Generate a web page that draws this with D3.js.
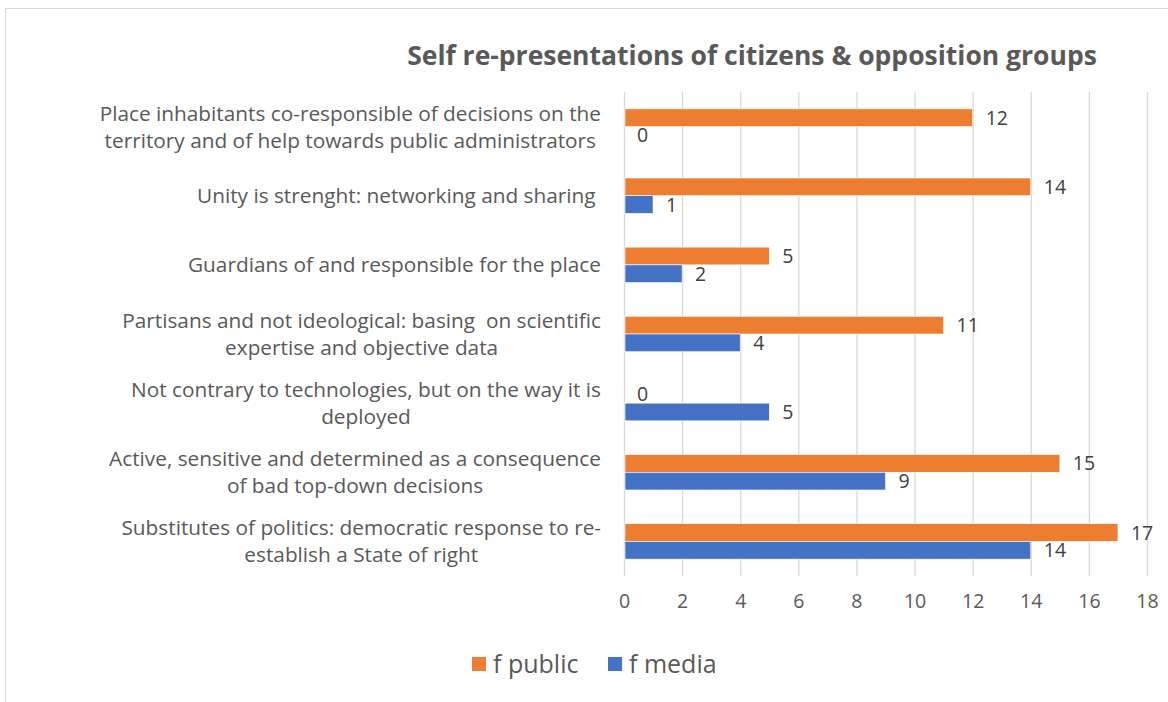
<!DOCTYPE html>
<html><head><meta charset="utf-8">
<script src="https://cdn.jsdelivr.net/npm/d3@7"></script>
<style>
html,body{margin:0;padding:0;background:#fff;}
text{font-family:"Open Sans",sans-serif;}
</style></head>
<body><svg id="chart" width="1168" height="702"></svg>
<script>
const title = "Self re-presentations of citizens & opposition groups";
const categories = [
  ["Place inhabitants co-responsible of decisions on the", "territory and of help towards public administrators"],
  ["Unity is strenght: networking and sharing "],
  ["Guardians of and responsible for the place"],
  ["Partisans and not ideological: basing  on scientific", "expertise and objective data"],
  ["Not contrary to technologies, but on the way it is", "deployed"],
  ["Active, sensitive and determined as a consequence", "of bad top-down decisions"],
  ["Substitutes of politics: democratic response to re-", "establish a State of right"]
];
const seriesNames = ["f public", "f media"];
const fPublic = [12, 14, 5, 11, 0, 15, 17];
const fMedia  = [0, 1, 2, 4, 5, 9, 14];
const xTicks = [0, 2, 4, 6, 8, 10, 12, 14, 16, 18];
const colors = ["#ED7D31", "#4472C4"];

const svg = d3.select("#chart");
svg.style("font-family", '"Open Sans", sans-serif');

// outer frame
svg.append("rect").attr("x", 5.5).attr("y", 8.5).attr("width", 1200).attr("height", 800)
  .attr("fill", "none").attr("stroke", "#d9d9d9").attr("stroke-width", 1);

const x = d3.scaleLinear().domain([0, 18]).range([624, 1147]);
const idx = d3.range(categories.length);
const y = d3.scaleBand().domain(idx).range([92, 576]).padding(0);
const barH = 17.7;
const sub = d3.scaleBand().domain([0, 1])
  .range([y.bandwidth() / 2 - barH, y.bandwidth() / 2 + barH]).padding(0);

// gridlines
svg.append("g").selectAll("line").data(xTicks).join("line")
  .attr("x1", d => x(d) + 0.5).attr("x2", d => x(d) + 0.5)
  .attr("y1", 92).attr("y2", 576)
  .attr("stroke", "#d9d9d9").attr("stroke-width", 1.3);

// x tick labels via axis
const xAxis = svg.append("g").attr("transform", "translate(0,594)")
  .call(d3.axisBottom(x).tickValues(xTicks).tickSize(0).tickPadding(0));
xAxis.select(".domain").remove();
xAxis.selectAll("text").attr("fill", "#595959").attr("font-size", "19.5px")
  .attr("font-family", '"Open Sans", sans-serif').attr("dy", "0.71em");

// title
svg.append("text").attr("x", 752).attr("y", 64.5).attr("text-anchor", "middle")
  .attr("font-size", "26.5px").attr("font-weight", "bold").attr("fill", "#595959")
  .text(title);

// bars
const series = [fPublic, fMedia];
series.forEach((vals, s) => {
  const g = svg.append("g");
  g.selectAll("rect").data(vals).join("rect")
    .attr("x", x(0) + 1)
    .attr("y", (d, i) => y(i) + sub(s))
    .attr("width", d => Math.max(0, x(d) - x(0) - 1))
    .attr("height", sub.bandwidth())
    .attr("fill", colors[s])
    .attr("stroke", "#ffffff").attr("stroke-width", 0.6);
  g.selectAll("text").data(vals).join("text")
    .attr("x", d => x(d) + 13)
    .attr("y", (d, i) => y(i) + sub(s) + sub.bandwidth() / 2)
    .attr("dy", "0.36em")
    .attr("font-size", "19.5px").attr("fill", "#404040")
    .text(d => d);
});

// category labels: lines centred on a common axis, widest line ends at x=601
const lh = 27;
const labG = svg.append("g");
categories.forEach((lines, i) => {
  const cy = y(i) + y.bandwidth() / 2;
  const n = lines.length;
  const nodes = lines.map((ln, k) => labG.append("text")
      .attr("y", cy + (k - (n - 1) / 2) * lh)
      .attr("dy", "0.36em")
      .attr("font-size", "20.8px").attr("fill", "#595959")
      .attr("text-anchor", "middle")
      .attr("xml:space", "preserve")
      .style("white-space", "pre")
      .text(ln));
  const maxW = d3.max(nodes, t => t.node().getComputedTextLength());
  nodes.forEach(t => t.attr("x", 601 - maxW / 2));
});

// legend
const leg = svg.append("g");
const legX = [472, 608];
seriesNames.forEach((nm, s) => {
  leg.append("rect").attr("x", legX[s]).attr("y", 657).attr("width", 14).attr("height", 14)
    .attr("fill", colors[s]);
  leg.append("text").attr("x", legX[s] + 21).attr("y", 664).attr("dy", "0.36em")
    .attr("font-size", "25px").attr("fill", "#595959").text(nm);
});
</script></body></html>
